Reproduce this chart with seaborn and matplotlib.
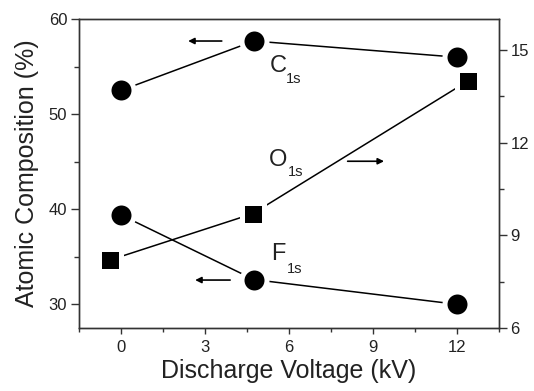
import matplotlib
matplotlib.use("Agg")
import matplotlib.pyplot as plt
import seaborn as sns
from matplotlib.ticker import MultipleLocator

# values
volt_circ = [0, 4.75, 12]
c1s = [52.5, 57.7, 56.0]
f1s = [39.4, 32.6, 30.0]
volt_sq = [-0.4, 4.7, 12.4]
o1s = [8.2, 9.7, 14.0]

sns.set_style("ticks")
plt.rcParams["font.family"] = ["Liberation Sans", "DejaVu Sans"]

fig = plt.figure(figsize=(5.34, 3.91), dpi=100)
ax = fig.add_axes([0.148, 0.161, 0.786, 0.790])
ax2 = ax.twinx()

line_kw = dict(color="black", lw=1.1, markeredgecolor="white",
               markeredgewidth=3.6, legend=False)
sns.lineplot(x=volt_circ, y=c1s, marker="o", markersize=18, ax=ax, **line_kw)
sns.lineplot(x=volt_circ, y=f1s, marker="o", markersize=18, ax=ax, **line_kw)
sns.lineplot(x=volt_sq, y=o1s, marker="s", markersize=16, ax=ax2, **line_kw)

ax.set_xlim(-1.5, 13.5)
ax.set_ylim(27.5, 60)
ax2.set_ylim(6, 16)
ax.xaxis.set_major_locator(MultipleLocator(3))
ax.xaxis.set_minor_locator(MultipleLocator(1.5))
ax.yaxis.set_major_locator(MultipleLocator(10))
ax.yaxis.set_minor_locator(MultipleLocator(5))
ax2.yaxis.set_major_locator(MultipleLocator(3))
ax2.yaxis.set_minor_locator(MultipleLocator(1.5))

txt = "#222222"
edge = "#333333"
for a in (ax, ax2):
    a.tick_params(which="major", length=6, width=1, labelsize=12, colors=edge,
                  labelcolor=txt, direction="out", pad=2.5)
    a.tick_params(which="minor", length=3.5, width=1, colors=edge, direction="out")
    for s in a.spines.values():
        s.set_color(edge)
        s.set_linewidth(1)
ax.tick_params(axis="x", which="major", length=4.5, pad=4)
ax.tick_params(axis="x", which="minor", length=3)
ax.set_ylabel("Atomic Composition (%)", fontsize=18, color=txt, labelpad=7)
ax.set_xlabel("Discharge Voltage (kV)", fontsize=18, color=txt, labelpad=3)
ax2.set_ylabel("")

# series labels, letter plus a small lowered "1s"
big = dict(fontsize=17, color=txt, ha="left", va="center")
small = dict(fontsize=10.5, color=txt, ha="left", va="center")
ax.text(5.3, 55.05, "C", **big)
ax.text(5.9, 53.7, "1s", **small)
ax.text(5.3, 45.2, "O", **big)
ax.text(5.98, 43.9, "1s", **small)
ax.text(5.38, 35.3, "F", **big)
ax.text(5.94, 33.7, "1s", **small)

# arrows pointing at the matching axis
arr = dict(arrowstyle="-|>", color="black", lw=1.2, mutation_scale=9)
ax.annotate("", xy=(2.3, 57.7), xytext=(3.7, 57.7), arrowprops=arr)
ax.annotate("", xy=(2.55, 32.55), xytext=(4.0, 32.55), arrowprops=arr)
ax2.annotate("", xy=(9.5, 11.4), xytext=(8.0, 11.4), arrowprops=arr)

fig.savefig("out.png", dpi=100)
